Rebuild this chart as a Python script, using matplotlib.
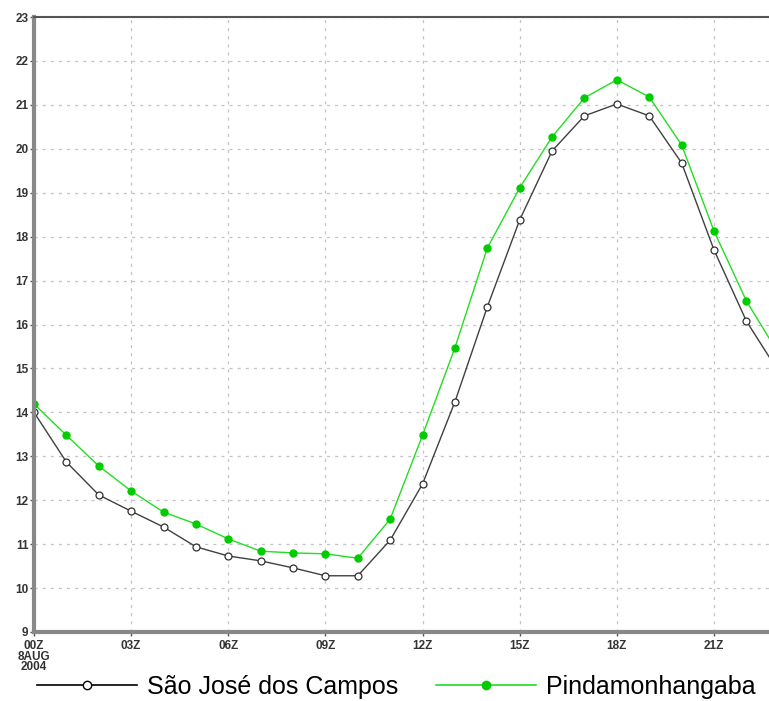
import numpy as np
import matplotlib
matplotlib.use('Agg')
import matplotlib.pyplot as plt
from matplotlib.lines import Line2D

plt.rcParams['font.family'] = ['Liberation Sans', 'DejaVu Sans']

# hourly values, 00Z 8 Aug 2004 onwards
hours = list(range(24))
sjc = [14.0, 12.87, 12.12, 11.75, 11.39, 10.94, 10.73, 10.62, 10.46, 10.28, 10.28, 11.09,
       12.37, 14.24, 16.40, 18.38, 19.95, 20.75, 21.02, 20.75, 19.68, 17.70, 16.08, 14.92]
pinda = [14.19, 13.48, 12.78, 12.21, 11.73, 11.46, 11.12, 10.84, 10.80, 10.78, 10.68, 11.57,
         13.48, 15.47, 17.74, 19.11, 20.27, 21.16, 21.57, 21.18, 20.09, 18.13, 16.54, 15.33]
xticks = [0, 3, 6, 9, 12, 15, 18, 21]
xlabels = ['00Z\n8AUG\n2004', '03Z', '06Z', '09Z', '12Z', '15Z', '18Z', '21Z']
yticks = list(range(9, 24))

fig = plt.figure(figsize=(7.69, 7.01), dpi=100)
ax = fig.add_axes([34/769, 69/701, 1 - 34/769, 615/701])

ax.plot(hours, sjc, color='#404040', lw=1, marker='o', ms=5, mfc='white', mec='#303030', mew=0.9)
ax.plot(hours, pinda, color='#22dd22', lw=1, marker='o', ms=5, mfc='#00cc00', mec='#00cc00')

ax.set_xlim(0, 22.7)
ax.set_ylim(9, 23)
ax.set_xticks(xticks)
ax.set_xticklabels(xlabels, fontsize=8.5, color='#333333', linespacing=0.8, fontweight='bold')
ax.set_yticks(yticks)
ax.set_yticklabels([str(v) for v in yticks], fontsize=8.5, color='#333333', fontweight='bold')
ax.tick_params(length=3, width=1, color='#555555')
ax.tick_params(axis='y', pad=1)
ax.tick_params(axis='x', pad=3)
ax.grid(True, color='#c4c4c4', linestyle=(0, (2.5, 4)), lw=0.9)

ax.spines['left'].set_color('#888888')
ax.spines['left'].set_linewidth(3)
ax.spines['bottom'].set_color('#888888')
ax.spines['bottom'].set_linewidth(3)
ax.spines['top'].set_color('#555555')
ax.spines['top'].set_linewidth(1.5)
ax.spines['right'].set_visible(False)

handles = [Line2D([], [], color='black', lw=1.2, marker='o', ms=6, mfc='white', mec='black'),
           Line2D([], [], color='#22dd22', lw=1.2, marker='o', ms=6, mfc='#00cc00', mec='#00cc00')]
fig.legend(handles, ['São José dos Campos', 'Pindamonhangaba'], loc='center',
           bbox_to_anchor=(0.515, 14/701), ncol=2, frameon=False, fontsize=18,
           handlelength=4.0, handletextpad=0.4, columnspacing=1.5,
           borderaxespad=0, borderpad=0)

fig.savefig('out.png', dpi=100)
